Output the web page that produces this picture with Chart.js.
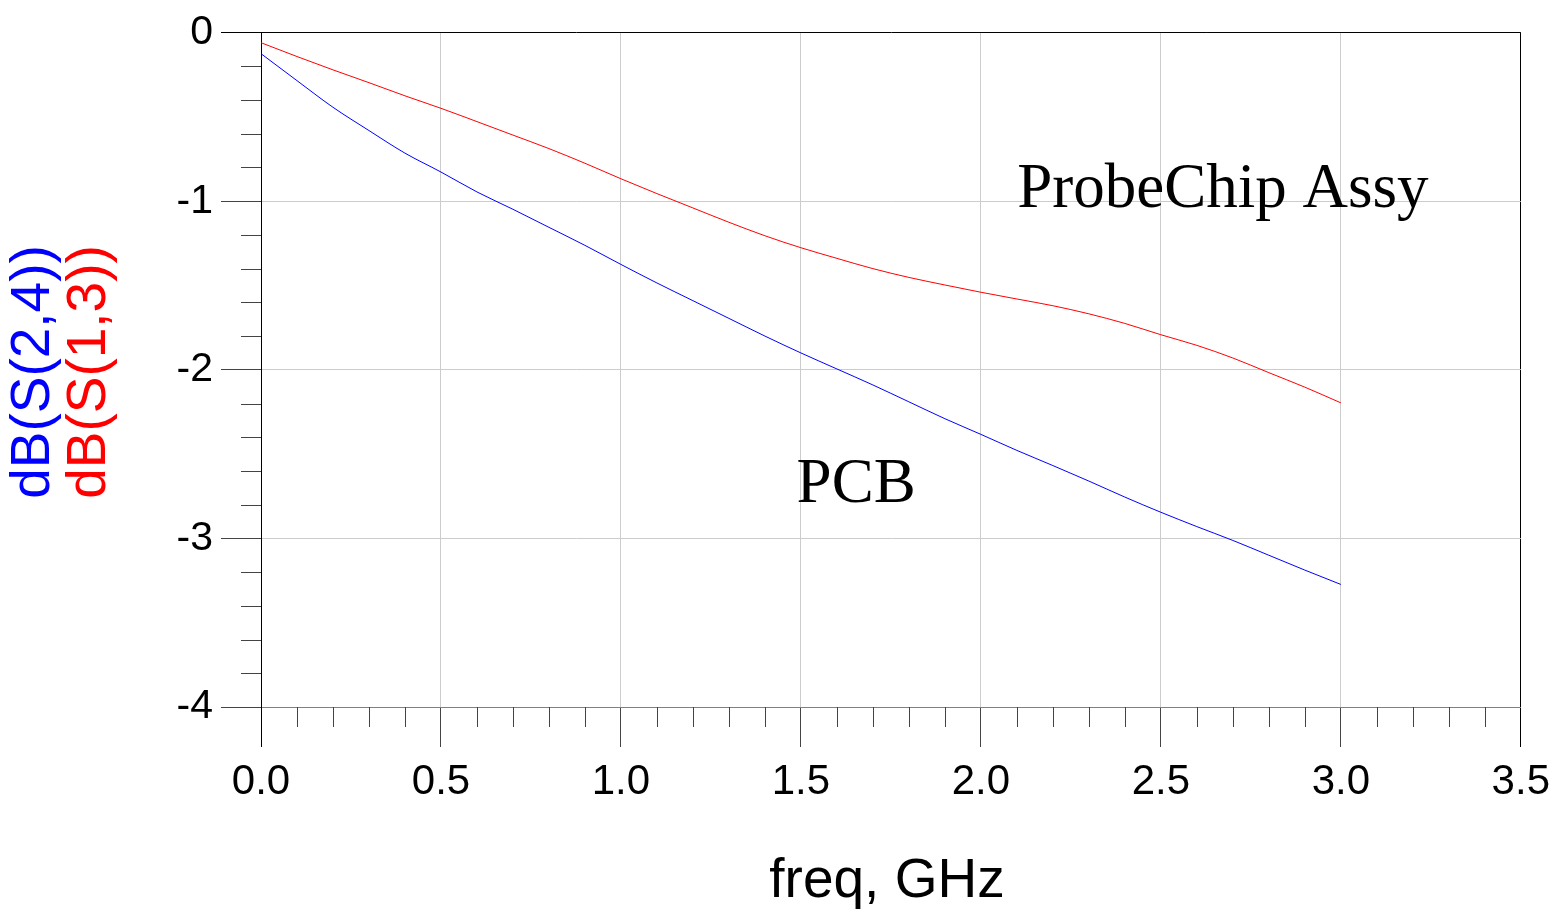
<!DOCTYPE html>
<html>
<head>
<meta charset="utf-8">
<title>dB(S) vs freq</title>
<script src="https://cdn.jsdelivr.net/npm/chart.js@4.4.1/dist/chart.umd.min.js"></script>
<style>
  html, body { margin: 0; padding: 0; background: #fff; }
  #wrap { width: 1560px; height: 909px; }
</style>
</head>
<body>
<div id="wrap"><canvas id="chart-sparams" width="1560" height="909"></canvas></div>
<script>
// freq axis in GHz, traces in dB
const freqGHz = [0.0, 0.1, 0.2, 0.3, 0.4, 0.5, 0.6, 0.7, 0.8, 0.9,
  1.0, 1.1, 1.2, 1.3, 1.4, 1.5, 1.6, 1.7, 1.8, 1.9,
  2.0, 2.1, 2.2, 2.3, 2.4, 2.5, 2.6, 2.7, 2.8, 2.9, 3.0];

// dB(S(2,4)) — PCB, blue
const dbS24 = [-0.125, -0.285, -0.443, -0.581, -0.715, -0.827, -0.945, -1.048, -1.155, -1.262,
  -1.375, -1.485, -1.590, -1.695, -1.800, -1.900, -1.995, -2.090, -2.190, -2.290,
  -2.383, -2.478, -2.568, -2.660, -2.755, -2.845, -2.930, -3.012, -3.100, -3.188, -3.273];

// dB(S(1,3)) — ProbeChip Assy, red
const dbS13 = [-0.060, -0.142, -0.221, -0.297, -0.375, -0.449, -0.528, -0.608, -0.688, -0.775,
  -0.867, -0.955, -1.040, -1.125, -1.205, -1.276, -1.339, -1.400, -1.452, -1.497,
  -1.540, -1.580, -1.620, -1.668, -1.725, -1.792, -1.855, -1.930, -2.017, -2.103, -2.196];

const xTickLabels = ["0.0", "0.5", "1.0", "1.5", "2.0", "2.5", "3.0", "3.5"];
const yTickLabels = ["-4", "-3", "-2", "-1", "0"];

const X_TITLE = "freq, GHz";
const Y_TITLES = [
  { text: "dB(S(2,4))", color: "#0000ff" },
  { text: "dB(S(1,3))", color: "#ff0000" },
];

// text labels placed in data coords (left edge, baseline)
const annoText = ["ProbeChip Assy", "PCB"];
const annoFreq = [2.101, 1.488];
const annoDb = [-1.034, -2.787];

const SANS = '"Liberation Sans", Arial, sans-serif';
const SERIF = '"Liberation Serif", "Times New Roman", serif';

const GRID_LIGHT = "#cccccc";

function toXY(xs, ys) {
  return xs.map((x, i) => ({ x, y: ys[i] }));
}

// minor tick marks outside the plot box (library has no minor ticks)
const minorTicks = {
  id: "minorTicks",
  afterDraw(chart) {
    const { ctx, chartArea, scales } = chart;
    const xs = scales.x, ys = scales.y;
    ctx.save();
    ctx.strokeStyle = "#444";
    ctx.lineWidth = 1;
    ctx.beginPath();
    for (let i = 1; i < 35; i++) {
      if (i % 5 === 0) continue;
      const px = Math.round(xs.getPixelForValue(i / 10)) + 0.5;
      ctx.moveTo(px, chartArea.bottom);
      ctx.lineTo(px, chartArea.bottom + 20);
    }
    for (let i = 1; i < 20; i++) {
      if (i % 5 === 0) continue;
      const py = Math.round(ys.getPixelForValue(-i / 5)) + 0.5;
      ctx.moveTo(chartArea.left - 20, py);
      ctx.lineTo(chartArea.left, py);
    }
    ctx.stroke();
    ctx.restore();
  },
};

// axis titles (two colours on y) and trace labels
const plotText = {
  id: "plotText",
  afterDraw(chart) {
    const { ctx, chartArea, scales } = chart;
    ctx.save();
    ctx.textBaseline = "alphabetic";

    ctx.fillStyle = "#000";
    ctx.textAlign = "center";
    ctx.font = "55px " + SANS;
    ctx.fillText(X_TITLE, chartArea.left + 626, 897);

    ctx.font = "55px " + SANS;
    const baseX = [49, 105];
    Y_TITLES.forEach((t, i) => {
      ctx.save();
      ctx.translate(baseX[i], 372);
      ctx.rotate(-Math.PI / 2);
      ctx.fillStyle = t.color;
      ctx.textAlign = "center";
      ctx.fillText(t.text, 0, 0);
      ctx.restore();
    });

    ctx.fillStyle = "#000";
    ctx.textAlign = "left";
    ctx.font = "63px " + SERIF;
    annoText.forEach((s, i) => {
      ctx.fillText(s, scales.x.getPixelForValue(annoFreq[i]), scales.y.getPixelForValue(annoDb[i]));
    });
    ctx.restore();
  },
};

const config = {
  type: "line",
  data: {
    datasets: [
      {
        label: "dB(S(2,4))",
        data: toXY(freqGHz, dbS24),
        borderColor: "#0000ff",
        borderWidth: 1,
        pointRadius: 0,
        cubicInterpolationMode: "monotone",
        fill: false,
      },
      {
        label: "dB(S(1,3))",
        data: toXY(freqGHz, dbS13),
        borderColor: "#ff0000",
        borderWidth: 1,
        pointRadius: 0,
        cubicInterpolationMode: "monotone",
        fill: false,
      },
    ],
  },
  options: {
    responsive: false,
    animation: false,
    layout: { padding: { left: 0, top: 30, right: 38, bottom: 0 } },
    plugins: {
      legend: { display: false },
      tooltip: { enabled: false },
    },
    scales: {
      x: {
        type: "linear",
        min: 0,
        max: 3.5,
        afterFit: (s) => { s.height = 202; },
        ticks: {
          stepSize: 0.5,
          maxRotation: 0,
          autoSkip: false,
          padding: 10,
          color: "#000",
          font: { family: SANS, size: 42 },
          callback: (v) => xTickLabels[Math.round(v * 2)] ?? "",
        },
        grid: {
          tickLength: 40,
          color: (c) => (c.tick && (c.tick.value === 0 || c.tick.value === 3.5) ? "#000" : GRID_LIGHT),
          tickColor: (c) => (c.tick && (c.tick.value === 0 || c.tick.value === 3.5) ? "#000" : "#444"),
        },
        border: { color: "#808080", width: 1 },
      },
      y: {
        type: "linear",
        min: -4,
        max: 0,
        afterFit: (s) => { s.width = 261; },
        ticks: {
          stepSize: 1,
          padding: 8,
          color: "#000",
          font: { family: SANS, size: 41 },
          callback: (v) => yTickLabels[Math.round(v) + 4] ?? "",
        },
        grid: {
          tickLength: 40,
          color: (c) => (c.tick && c.tick.value === 0 ? "#000" : c.tick && c.tick.value === -4 ? "#808080" : GRID_LIGHT),
          tickColor: (c) => (c.tick && c.tick.value === 0 ? "#000" : "#444"),
        },
        border: { color: "#000", width: 1 },
      },
    },
  },
  plugins: [minorTicks, plotText],
};

new Chart(document.getElementById("chart-sparams"), config);
</script>
</body>
</html>
